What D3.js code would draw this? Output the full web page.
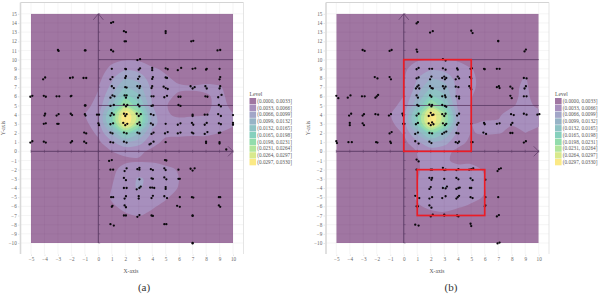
<!DOCTYPE html>
<html><head><meta charset="utf-8">
<script src="https://cdn.jsdelivr.net/npm/d3@7"></script>
<style>html,body{margin:0;padding:0;background:#fff}svg{display:block}text{font-family:"Liberation Serif",serif}</style>
</head><body><svg id="c" width="598" height="294"></svg>
<script>
const xTicks = d3.range(-5, 11);
const yTicks = d3.range(-10, 16);
const levelWidth = 0.0033;
const levelLabels = ["(0.0000, 0.0033]","(0.0033, 0.0066]","(0.0066, 0.0099]","(0.0099, 0.0132]","(0.0132, 0.0165]","(0.0165, 0.0198]","(0.0198, 0.0231]","(0.0231, 0.0264]","(0.0264, 0.0297]","(0.0297, 0.0330]"];
const levelColors = ["#a076a2","#a78fbd","#a2a6c8","#96b3c6","#8ec2c4","#86d0bd","#92dcac","#b2e59c","#d8e98c","#fbe985"];
// density rows, y = 15 down to -10, columns x = -5..10, in level units
const densityA = [
[.2,.2,.2,.2,.2,.2,.2,.2,.2,.2,.2,.2,.2,.2,.2,.2],
[.2,.2,.2,.2,.2,.2,.2,.2,.2,.2,.2,.2,.2,.2,.2,.2],
[.2,.2,.2,.2,.2,.2,.2,.2,.2,.2,.2,.2,.2,.2,.2,.2],
[.2,.2,.2,.2,.2,.2,.2,.2,.2,.2,.2,.2,.2,.2,.2,.2],
[.2,.2,.2,.2,.2,.2,.2,.3,.3,.2,.2,.2,.2,.2,.2,.2],
[.2,.2,.2,.2,.2,.2,.7,.95,.9,.5,.3,.2,.2,.2,.2,.2],
[.2,.2,.2,.2,.2,.4,1.3,1.8,1.6,1.15,.8,.3,.2,.2,.2,.2],
[.2,.2,.2,.2,.2,.7,1.8,3.0,2.6,1.4,1.15,.7,.5,.6,.5,.2],
[.2,.2,.2,.2,.4,.95,2.3,4.1,3.4,1.7,1.3,1.15,1.1,1.2,1.1,.5],
[.2,.2,.2,.2,.6,1.1,3,5.5,4.2,1.8,1.2,.85,.85,.9,1.2,.7],
[.2,.2,.2,.2,.75,1.3,3.9,7.4,5.3,2,1.05,.7,.7,.8,1.3,.8],
[.2,.2,.2,.4,1.02,1.7,5.6,10.2,7.4,2.4,1.1,.85,.9,.95,1.35,1.05],
[.2,.2,.2,.3,.8,1.5,5.3,10,7,2.3,1.5,1.35,1.4,1.5,1.5,1.15],
[.2,.2,.2,.2,.5,1.2,3.2,5.8,4.1,1.8,1.2,1.2,1.2,1.2,1.0,.7],
[.2,.2,.2,.2,.3,.8,1.8,2.9,2.4,1.3,.8,.7,.6,.6,.5,.3],
[.2,.2,.2,.2,.2,.3,1,1.2,1.2,.8,.4,.3,.2,.2,.2,.2],
[.2,.2,.2,.2,.2,.2,.5,.85,.9,.85,.6,.3,.2,.2,.2,.2],
[.2,.2,.2,.2,.2,.2,.8,1.3,1.5,1.5,1.3,.9,.3,.2,.2,.2],
[.2,.2,.2,.2,.2,.2,.9,1.5,2.1,1.8,1.4,1.0,.3,.2,.2,.2],
[.2,.2,.2,.2,.2,.2,1.0,1.6,2.1,1.6,1.35,.95,.3,.2,.2,.2],
[.2,.2,.2,.2,.2,.4,1.1,1.4,1.5,1.4,1.1,.7,.2,.2,.2,.2],
[.2,.2,.2,.2,.2,.3,.9,1.2,1.3,1.1,.8,.3,.2,.2,.2,.2],
[.2,.2,.2,.2,.2,.2,.4,.9,1.05,.8,.3,.2,.2,.2,.2,.2],
[.2,.2,.2,.2,.2,.2,.2,.3,.3,.2,.2,.2,.2,.2,.2,.2],
[.2,.2,.2,.2,.2,.2,.2,.2,.2,.2,.2,.2,.2,.2,.2,.2],
[.2,.2,.2,.2,.2,.2,.2,.2,.2,.2,.2,.2,.2,.2,.2,.2]];
const densityB = [
[.2,.2,.2,.2,.2,.2,.2,.2,.2,.2,.2,.2,.2,.2,.2,.2],
[.2,.2,.2,.2,.2,.2,.2,.2,.2,.2,.2,.2,.2,.2,.2,.2],
[.2,.2,.2,.2,.2,.2,.2,.2,.2,.2,.2,.2,.2,.2,.2,.2],
[.2,.2,.2,.2,.2,.2,.2,.2,.2,.2,.2,.2,.2,.2,.2,.2],
[.2,.2,.2,.2,.2,.2,.2,.3,.3,.2,.2,.2,.2,.2,.2,.2],
[.2,.2,.2,.2,.2,.3,.9,1.0,1.0,.9,.3,.2,.2,.2,.2,.2],
[.2,.2,.2,.2,.2,.8,1.5,1.8,1.7,1.4,1.05,.5,.2,.2,.2,.2],
[.2,.2,.2,.2,.2,.9,2,3,2.6,1.6,1.2,.6,.4,.6,1.05,.3],
[.2,.2,.2,.2,.4,.95,2.3,4,3.4,1.7,1.2,.6,.5,.8,1.15,.5],
[.2,.2,.2,.2,.6,1,3,5.3,4.2,1.6,1.05,.5,.5,.8,1.2,.6],
[.2,.2,.2,.2,.7,1.3,3.9,7.2,5.3,1.9,.95,.5,.6,.9,1.3,.8],
[.2,.2,.2,.3,.95,1.7,5.6,10,7.4,2.2,.95,.7,.9,1.3,1.5,1.3],
[.2,.2,.2,.3,.8,1.5,5.3,9.8,7,2.1,1,1.15,1.1,1.05,1.3,1.1],
[.2,.2,.2,.2,.4,1.1,3.2,5.7,4.1,1.7,.95,1.1,1.05,.85,1,.8],
[.2,.2,.2,.2,.2,.7,1.8,2.9,2.4,1.3,.8,.5,.5,.5,.5,.4],
[.2,.2,.2,.2,.2,.3,1.05,1.4,1.3,.8,.5,.3,.2,.2,.2,.2],
[.2,.2,.2,.2,.2,.2,.95,1.3,1.15,.8,.8,.4,.2,.2,.2,.2],
[.2,.2,.2,.2,.2,.2,.9,1.4,1.4,1.3,1.3,.9,.3,.2,.2,.2],
[.2,.2,.2,.2,.2,.3,.95,1.6,1.9,1.5,2.1,1.05,.3,.2,.2,.2],
[.2,.2,.2,.2,.2,.4,1,1.7,2.05,1.5,1.6,1.05,.3,.2,.2,.2],
[.2,.2,.2,.2,.2,.6,1.1,1.4,1.4,1.3,1.2,.95,.2,.2,.2,.2],
[.2,.2,.2,.2,.2,.3,.9,1.2,1.3,1.1,.9,.6,.2,.2,.2,.2],
[.2,.2,.2,.2,.2,.2,.3,.7,.8,.6,.3,.2,.2,.2,.2,.2],
[.2,.2,.2,.2,.2,.2,.2,.3,.3,.2,.2,.2,.2,.2,.2,.2],
[.2,.2,.2,.2,.2,.2,.2,.2,.2,.2,.2,.2,.2,.2,.2,.2],
[.2,.2,.2,.2,.2,.2,.2,.2,.2,.2,.2,.2,.2,.2,.2,.2]];
const pointsA = [[.95,14],[1.1,14.1],[1.9,13.1],[2.05,13],[1.95,12],[2.05,12],[-3,11.05],[-2.95,10.95],[-1,11],[-.95,11],[.95,11.05],[1.1,10.9],[2.9,9.95],[3.1,10.05],[5,13.1],[5,12.9],[6.9,12],[7.05,12.05],[8.85,11],[9.05,11.05],
[1,9],[2,9],[2.05,8.95],[3,8.9],[3.1,9.05],[4,9.1],[4,8.85],[5,9.05],[5.15,8.95],[5.9,8.85],[6.15,9.1],[7,9],[7.2,9.05],[8,8.9],[8.05,9],[9,9],
[-4.1,7.85],[-3.95,8.05],[-2.1,8],[-1.9,8.05],[-1.1,8],[-.9,8],[.9,7.85],[1.05,8.1],[2,8],[2.05,8.2],[2.95,7.9],[3.05,8.15],[4,7.9],[4.05,8.1],[5,8.05],[5.1,8],[9,7.85],[9.05,8.1],
[1,7.1],[1.15,6.9],[2,7],[2.1,6.95],[2.9,7.1],[3.05,6.9],[3.1,7.1],[3.95,6.9],[4,7.1],[4.85,7.05],[5,6.9],[5.15,6.8],[6.85,7.1],[7,6.85],[7.15,7],[7.95,7.1],[8.05,6.85],[9.05,7.1],[9,6.85],
[-5.05,5.95],[-4.9,6.05],[-4.05,6.05],[-3.9,5.95],[-3.1,6],[-2.9,6],[-2.05,6],[-2,6.05],[.9,5.85],[1.05,6.1],[1.2,6],[1.95,6.1],[2.05,5.85],[2.1,6.1],[2.95,5.85],[3.05,6.1],[3.95,6],[4.1,6],[4.9,5.9],[5.1,6.05],[5.95,5.95],[6.1,5.95],[7.95,6],[8.1,5.95],[8.9,5.9],[9.15,6.15],
[-1,5],[-.95,5],[.9,4.95],[1.15,5.05],[1.9,5.1],[2.05,4.9],[2.15,5.05],[2.95,5.1],[3.05,4.9],[3.95,4.95],[4.05,5],[5.95,5.05],[6.1,4.95],[8.95,5.05],[9.1,4.9],
[-4,3.9],[-3.95,4.1],[-3.1,3.9],[-2.95,4.05],[-2.05,4.1],[-1.95,3.95],[-1,4.05],[-.95,3.9],[-.1,4],[.05,4],[.9,3.9],[1,4.15],[1.15,4],[1.9,4.1],[2,3.85],[2.1,4.05],[2.85,4.1],[3,3.85],[3.15,4.05],[3.9,4.05],[4.1,3.95],[7,4],[7,3.85],[7.9,4],[8.1,4],[8.9,4.05],[9.1,3.85],[10,3.95],
[-4.05,3],[-3.9,3.05],[-3.05,3],[-2.95,3],[0,3.05],[.05,2.85],[.9,2.95],[1.1,3.05],[1.85,3.1],[2,2.85],[2.15,3],[2.9,3],[3.05,3.15],[3.1,2.85],[3.9,3.05],[4.05,2.9],[5,3],[5.9,2.9],[6.1,3.05],[6.95,3.1],[7.05,2.9],[7.9,2.9],[8.05,3.1],[8.95,3.05],[9.1,2.95],[10,2.9],[10,3.1],
[-1.05,2.05],[-.9,1.95],[.9,2.05],[1.05,1.95],[1.9,2.05],[2.1,1.95],[2.9,2.05],[3.05,1.95],[3.95,1.9],[4.1,2.05],[4.95,1.95],[5.15,2.1],[5.9,1.95],[6.1,2.05],[6.95,2.05],[7.05,1.95],[7.9,1.9],[8.1,2.1],[8.95,2],[9.05,2.05],
[-5.05,.95],[-4.9,1.1],[-4.05,1.05],[-3.9,.95],[-2.05,.95],[-1.95,1.1],[-1.05,1.05],[-.9,.9],[.9,1],[1.1,.95],[1.9,1.05],[2.1,.95],[3.9,.85],[4.1,1.05],[3.8,.75],[5,1],[8,1.05],[8,.9],[9,1],[9,.85],[9.5,.2],
[.8,-1.05],[1,-.95],[.9,-2],[1.1,-2],[1.95,-2.15],[2.1,-1.85],[2.9,-1.95],[3.05,-2],[3.05,-1.8],[1.9,-2.9],[2.05,-3.15],[3.05,-3.05],[1.9,-4],[2.1,-4],[2.85,-4.15],[3.05,-4],[3.15,-3.85],[.95,-5],[1.1,-5],[1.95,-5.15],[2.05,-4.9],[3,-4.9],[3,-5.15],[1,-6.05],[1.05,-5.95],[1.95,-5.9],[2.05,-6.1],[1.9,-7],[2.05,-7],[2.9,-7.15],[3.05,-6.95],[.9,-7.95],[1.15,-8.1],
[4.95,-.95],[5.05,-1],[3.9,-1.95],[4.05,-2.05],[4.9,-1.85],[5,-2.05],[5.95,-2],[6.85,-1.9],[7,-2.1],[7.15,-1.85],[3.95,-2.95],[4.05,-3],[4.9,-2.85],[5.05,-3.05],[5.95,-3],[6.05,-3],[3.85,-3.95],[4,-3.95],[4.15,-4],[5,-3.9],[5,-4.1],[3.95,-5.1],[4.05,-4.85],[4.9,-4.9],[5.1,-5.1],[6.05,-5],[6.95,-5],[7.05,-5.05],[8.95,-5],[9.05,-5],[5.85,-5.95],[6.05,-6.05],[8.95,-5.9],[9.05,-6.05],[3.95,-7],[4.05,-7.05],[7,-7],[7,-7.05],[4.9,-7.95],[5.05,-7.95],[7,-10],[7,-10.05]];
const pointsB = [[.95,13.95],[1.05,14.1],[1.95,12.95],[2.15,13.1],[-3.05,11.05],[-2.9,10.95],[-1.05,10.95],[-.9,11.05],[.95,11.1],[1,10.85],[5,13.15],[5.1,12.9],[7,12],[7,12.05],[8.95,10.9],[9.05,11.1],[2.9,10.05],[3.1,9.9],
[.95,8.95],[1.1,9.1],[1.9,9],[2.1,9],[2.9,9.05],[3.1,8.9],[3.95,9.05],[4,8.9],[4.95,9],[5.05,9.05],[5.95,9],[6,8.95],[6.9,9],[7.1,9],
[-2.15,8.1],[-1.95,7.95],[-1.05,8.1],[-.95,7.85],[.95,7.95],[1.1,8.05],[1.95,7.85],[2.05,8.15],[2.85,8],[3,8.15],[3.05,7.85],[3.15,8],[3.85,7.85],[4,8.15],[4.1,7.95],[4.9,8.1],[5,7.95],[8.9,8],[9.1,7.95],
[.9,6.85],[1,7.05],[1.1,7.2],[1.15,6.85],[1.95,7.1],[2.05,6.9],[2.15,6.85],[2.9,7.1],[3,6.85],[3.1,7.05],[3.85,7.05],[4.05,7],[4.85,7.1],[4.95,6.9],[5,6.75],[6.9,7],[7.05,7.1],[7.1,6.9],[7.9,7.05],[8.05,6.85],[8.95,6.85],[9.05,7.1],
[-5,6.05],[-4.85,5.8],[-4.15,5.85],[-3.95,6.1],[-3.1,6],[-2.9,6],[-2.1,5.85],[-2,6],[-1.9,6.15],[.95,6.1],[1.05,5.85],[1.95,6.1],[2.05,5.95],[2.85,6],[3.05,6.1],[3.1,5.9],[3.9,6],[4.1,5.95],[4.1,5.75],[7.9,6.05],[8,5.8],[8.9,6],[9.1,6],
[1,5.05],[1.1,4.95],[1.9,5.1],[2.05,4.9],[2.1,5.05],[2.85,5.05],[3.05,4.95],[3.15,4.85],
[-4.05,3.9],[-3.9,4.1],[-3.05,3.9],[-2.95,4.05],[-2.1,4.05],[-1.9,4],[-1.1,3.9],[-.95,4.05],[-.05,3.9],[-.1,4.1],[.95,3.9],[1.1,4.1],[1.85,3.85],[2,4.2],[2.1,3.95],[2.2,4],[2.85,4.05],[3,3.85],[3.1,4.1],[3.95,3.9],[4.1,4.1],[7.95,4.05],[8.15,3.95],[8.9,4.1],[9.1,4],[9.9,4],[10.05,4.05],
[-4,3.1],[-4,2.85],[-3.05,3.05],[-2.95,2.85],[-.05,3],[.05,3],[.9,2.95],[1.05,3.1],[1.85,3.05],[2,2.85],[2.1,3.15],[2.2,2.95],[2.9,3.05],[3.05,2.85],[3.15,3],[3.95,2.9],[4.05,3.1],[5,3],[5.95,3.1],[6,2.95],[6.9,3],[7.1,3.05],[7.95,2.9],[8.05,3.1],
[-1.05,1.95],[-.9,2.1],[.85,1.9],[1.05,2.05],[1.9,2],[2.1,1.95],[2.85,1.9],[3,2.05],[3.15,2.15],[3.9,2],[4.05,1.95],[5.9,2.05],[6.1,1.9],[7.9,2],[8.05,2],
[-5,1.1],[-4.95,.9],[-4.1,1],[-3.85,1],[-2.05,1],[-1.95,.95],[-1,1.05],[-.95,.9],[.85,1.1],[1.1,.85],[1.9,1.05],[2.05,.9],[3.85,1],[4,.9],[4.1,1.05],[5,1],[5.1,1],[8.9,.95],[9.05,1.1],
[.95,-.9],[1.1,-1.1],[.95,-2],[2,-2],[2.1,-2],[2.9,-1.8],[3,-2.05],[3.1,-2],[3.9,-2.05],[4.05,-1.95],[4.85,-2],[5,-1.95],[5.15,-1.85],[6.95,-2.15],[7.05,-1.95],[7.2,-1.85],
[1.9,-2.9],[2.05,-3.1],[2.1,-2.9],[3,-3],[3.9,-2.9],[4.05,-3.05],[4.95,-2.95],[5.1,-3.15],[6.05,-3.1],
[1.9,-4.1],[2,-3.9],[2.9,-4],[3.1,-4.05],[3.2,-3.85],[3.9,-4.1],[4.05,-4],[4.15,-3.95],[4.9,-4],[5,-4],
[.85,-4.85],[1.15,-5.1],[1.9,-5.15],[2.1,-5],[2.85,-5.1],[3.1,-4.9],[3.9,-5.15],[4,-5],[4.1,-4.85],[4.95,-5],[5.1,-5.1],[6.05,-5],[7,-5],
[.95,-6],[1.05,-6],[1.9,-5.9],[2.05,-6.15],[6,-6],[6.05,-5.9],[2,-7.1],[2.15,-6.9],[3,-7],[3,-6.9],[3.95,-7],[4.05,-7.1],[6.9,-7.1],[7.05,-6.95],[.85,-8],[1.1,-8.1],[4.95,-7.9],[5,-8.15],[6.95,-10.05],[7.1,-9.95]];
const redBoxes = [[0,10,5,0],[1,-2,6,-7]];

const svg = d3.select("#c");
const legendRows = levelLabels.map((t,i)=>({t,c:levelColors[i]}));

function panel(cfg){
  const x = d3.scaleLinear().domain([-5,10]).range(cfg.xr);
  const y = d3.scaleLinear().domain([-10,15]).range([243,13.8]);
  const g = svg.append("g");
  const clipId = "clip"+cfg.id;
  svg.append("clipPath").attr("id",clipId).append("rect")
    .attr("x",x(-5)).attr("y",y(15)).attr("width",x(10)-x(-5)).attr("height",y(-10)-y(15));
  // frame and background grid
  const fr = {l:cfg.frame[0], r:cfg.frame[1], t:2.5, b:254};
  const grid = g.append("g").attr("stroke","#efefef").attr("stroke-width",.6);
  xTicks.forEach(v=>grid.append("line").attr("x1",x(v)).attr("x2",x(v)).attr("y1",fr.t).attr("y2",fr.b));
  yTicks.forEach(v=>grid.append("line").attr("x1",fr.l).attr("x2",fr.r).attr("y1",y(v)).attr("y2",y(v)));
  g.append("line").attr("x1",fr.l).attr("x2",fr.r).attr("y1",fr.t).attr("y2",fr.t).attr("stroke","#d4d4d4").attr("stroke-width",1);
  g.append("line").attr("x1",fr.l).attr("x2",fr.l).attr("y1",fr.t).attr("y2",fr.b).attr("stroke","#d9d9d9").attr("stroke-width",1.6);
  g.append("line").attr("x1",fr.r).attr("x2",fr.r).attr("y1",fr.t).attr("y2",fr.b).attr("stroke","#dedede").attr("stroke-width",.8);
  // density
  const plot = g.append("g").attr("clip-path",`url(#${clipId})`);
  plot.append("rect").attr("x",x(-5)).attr("y",y(15)).attr("width",x(10)-x(-5)).attr("height",y(-10)-y(15)).attr("fill",levelColors[0]);
  const flat = cfg.density.flat().map(v=>v*levelWidth);
  const th = d3.range(1,10).map(k=>k*levelWidth);
  const cs = d3.contours().size([16,26]).smooth(true).thresholds(th)(flat);
  const line = d3.line().curve(d3.curveCatmullRomClosed.alpha(.5))
    .x(p=>x(-5+p[0]-.5)).y(p=>y(15-(p[1]-.5)));
  cs.forEach((c,i)=>{
    const d = c.coordinates.flatMap(poly=>poly.map(r=>line(r.slice(0,-1)))).join("");
    plot.append("path").attr("d",d).attr("fill",levelColors[i+1]).attr("fill-rule","evenodd");
  });
  // faint grid over density
  const og = plot.append("g").attr("stroke","#5e3a66").attr("stroke-opacity",.1).attr("stroke-width",.6);
  xTicks.forEach(v=>og.append("line").attr("x1",x(v)).attr("x2",x(v)).attr("y1",y(15)).attr("y2",y(-10)));
  yTicks.forEach(v=>og.append("line").attr("x1",x(-5)).attr("x2",x(10)).attr("y1",y(v)).attr("y2",y(v)));
  // reference lines
  const axc = "#5a3a64";
  const ln = g.append("g").attr("stroke",axc).attr("fill","none");
  ln.append("line").attr("x1",x(0)).attr("x2",x(0)).attr("y1",y(15)).attr("y2",y(-10)).attr("stroke-width",.9);
  ln.append("line").attr("x1",x(-5)).attr("x2",x(10)).attr("y1",y(0)).attr("y2",y(0)).attr("stroke-width",.9);
  [5,10].forEach(v=>ln.append("line").attr("x1",x(0)).attr("x2",x(10)).attr("y1",y(v)).attr("y2",y(v)).attr("stroke-width",.8));
  ln.append("path").attr("d",`M${x(0)-5},${y(15)+6}L${x(0)},${y(15)}L${x(0)+5},${y(15)+6}`).attr("stroke-width",.7);
  ln.append("path").attr("d",`M${x(10)-5},${y(0)-5}L${x(10)},${y(0)}L${x(10)-5},${y(0)+5}`).attr("stroke-width",.7);
  xTicks.forEach(v=>ln.append("line").attr("x1",x(v)).attr("x2",x(v)).attr("y1",y(0)-1.5).attr("y2",y(0)+1.5).attr("stroke-width",.5));
  yTicks.forEach(v=>ln.append("line").attr("x1",x(0)).attr("x2",x(0)+1.8).attr("y1",y(v)).attr("y2",y(v)).attr("stroke-width",.5));
  // points
  g.append("g").selectAll("circle").data(cfg.points).join("circle")
    .attr("cx",d=>x(d[0])).attr("cy",d=>y(d[1])).attr("r",1.15).attr("fill","#0a080c");
  // red boxes
  g.append("g").selectAll("rect").data(cfg.boxes).join("rect")
    .attr("x",d=>x(d[0])).attr("y",d=>y(d[1])).attr("width",d=>x(d[2])-x(d[0])).attr("height",d=>y(d[3])-y(d[1]))
    .attr("fill","none").attr("stroke","#ea1c26").attr("stroke-width",1.7);
  // axes
  const ax = g.append("g").attr("transform",`translate(0,${fr.b+.5})`)
    .call(d3.axisBottom(x).tickValues(xTicks).tickSize(1.5).tickPadding(1.8).tickFormat(d3.format("d")));
  const ay = g.append("g").attr("transform",`translate(${fr.l-1},0)`)
    .call(d3.axisLeft(y).tickValues(yTicks).tickSize(1.5).tickPadding(1.2).tickFormat(d3.format("d")));
  [ax,ay].forEach(a=>{
    a.select(".domain").remove();
    a.selectAll("line").attr("stroke","#cfcfcf").attr("stroke-width",.5);
    a.selectAll("text").attr("font-size",5.2).attr("fill","#666").style("font-family",'"Liberation Serif",serif');
  });
  // titles
  g.append("text").attr("x",cfg.xLab).attr("y",272.5).attr("text-anchor","middle").attr("font-size",5.6).attr("fill","#555").text("X-axis");
  g.append("text").attr("transform",`translate(${cfg.yLab},128) rotate(-90)`).attr("text-anchor","middle").attr("font-size",5.6).attr("fill","#555").text("Y-axis");
  g.append("text").attr("x",cfg.cap).attr("y",291).attr("text-anchor","middle").attr("font-size",11).attr("fill","#333").text(cfg.caption);
  // legend
  const lg = g.append("g");
  lg.append("text").attr("x",cfg.lx).attr("y",95.5).attr("font-size",5.6).attr("fill","#555").text("Level");
  const row = lg.selectAll("g").data(legendRows).join("g").attr("transform",(d,i)=>`translate(${cfg.lx},${98+i*6.78})`);
  row.append("rect").attr("width",6.6).attr("height",6.3).attr("fill",d=>d.c);
  row.append("text").attr("x",7.8).attr("y",4.9).attr("font-size",5.2).attr("fill","#555").text(d=>d.t);
}
panel({id:"a",xr:[31,233],frame:[20.5,243.5],density:densityA,points:pointsA,boxes:[],xLab:131,yLab:5,cap:144,caption:"(a)",lx:249.5});
panel({id:"b",xr:[336.3,538.7],frame:[326,549],density:densityB,points:pointsB,boxes:redBoxes,xLab:437,yLab:310,cap:451,caption:"(b)",lx:555});
</script></body></html>
